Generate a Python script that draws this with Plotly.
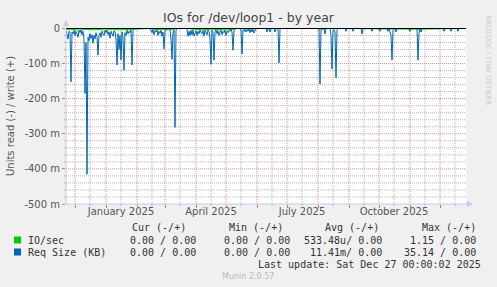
import plotly.graph_objects as go
import pandas as pd

# ---------------- data ----------------
start_date = "2024-11-22"
end_date = "2025-12-27"

# days since start_date, and Req Size (KB) read values in milli-units (plotted negative)
req_days = [0, 1, 2, 3, 4, 5, 6, 7, 8, 9, 10, 11, 12, 13, 14, 15, 16, 17, 18, 19, 20, 21, 22, 23, 24, 25,
            26, 27, 28, 29, 30, 31, 32, 33, 34, 35, 36, 37, 38, 39, 40, 41, 42, 43, 44, 45, 46, 47, 48, 49,
            50, 51, 52, 53, 54, 55, 56, 57, 58, 59, 60, 61, 62, 63, 64, 65, 66, 67, 68, 69, 84,
            85, 86, 87, 88, 89, 90, 91, 92, 93, 94, 95, 96, 97, 98, 99, 100, 101, 102, 103, 104, 105, 106,
            107, 108, 109, 110, 111, 120, 121, 122, 123, 124, 125, 126, 127, 128, 129, 130, 131, 132, 133,
            134, 135, 136, 137, 138, 139, 140, 141, 142, 143, 144, 145, 146, 147, 148, 149, 150, 151, 152,
            153, 154, 155, 156, 157, 158, 159, 160, 161, 162, 163, 164, 165, 166, 167, 168, 169, 170, 174,
            175, 176, 177, 178, 179, 180, 181, 182, 183, 184, 185, 186, 187, 188, 189, 190, 200, 201, 202,
            203, 204, 205, 208, 209, 210, 212, 213, 214, 253, 254, 255, 256, 258, 259, 260, 264, 265, 266,
            267, 268, 269, 270, 271, 272, 279, 280, 281, 286, 287, 288, 295, 296, 297, 305, 306, 307, 313,
            314, 315, 321, 322, 323, 325, 326, 327, 328, 329, 330, 331, 343, 344, 345, 351, 352, 353, 354,
            355, 356, 377, 378, 379, 384, 385, 386, 391, 392, 393, 399]
req_read = [-5, -19, -30, -8, -12, -152, -10, -15, -5, -20, -8, -14, -25, -6, -12, -4, -18, -8, -30, -185, -40,
            -415, -25, -35, -15, -28, -18, -42, -20, -30, -12, -22, -76, -20, -12, -25, -8, -15, -20, -6,
            -12, -5, -18, -10, -28, -8, -14, -22, -6, -10, -30, -104, -15, -60, -20, -90, -10, -25, -119,
            -12, -20, -5, -15, -8, -12, -4, -104, -6, -2, 0, 0,
            -5, -12, -3, -18, -6, -10, -4, -20, -8, -14, -5, -22, -10, -58, -8, -3, -2, 0, 0, -5, -30, -88,
            -10, -3, -282, -5, 0, 0, -3, -22, -8, -20, -5, -18, -4, -22, -10, -6, -20, -8, -15,
            -4, -12, -15, -6, -22, -5, -10, -18, -4, -8, -30, -102, -5, -12, -90, -10, -4, -15, -6,
            -20, -10, -4, -18, -8, -12, -5, -20, -8, -12, -5, -8, -3, -10, -62, -5, -2, 0, 0,
            -5, -73, -4, -8, -3, -10, -4, -8, 0, -12, -3, -10, -2, -13, -4, 0, 0, -10, 0,
            0, -10, 0, 0, -10, 0, 0, -98, 0, 0, -158, -5, -3, 0, -16, 0, 0, -20, -115,
            -5, -3, -10, -140, -5, 0, 0, -8, 0, 0, -8, 0, 0, -16, 0, 0, -8, 0, 0,
            -8, 0, 0, -8, 0, -20, -90, -5, 0, 0, -10, 0, 0, -8, 0, 0, -90, -15, 0,
            -10, 0, 0, -8, 0, 0, -8, 0, 0, -8, 0, 0]

# IO/sec read values in milli-units (plotted negative)
io_days = [0, 3, 8, 14, 20, 27, 33, 40, 47, 54, 61, 68, 69, 84, 90, 96, 102, 110, 111, 120, 128, 136,
           144, 152, 160, 168, 170, 174, 182, 190, 200, 210, 214, 253, 254, 255, 272, 326, 352, 399]
io_read = [-2, -4, -3, -5, -2, -4, -3, -5, -2, -4, -3, -2, 0, 0, -3, -2, -4, -2, 0, 0, -3, -4,
           -2, -3, -4, -2, 0, 0, -2, 0, 0, -2, 0, 0, -4, 0, 0, -2, -2, 0]

y_tick_vals = [-500, -400, -300, -200, -100, 0]
y_tick_text = ["-500 m", "-400 m", "-300 m", "-200 m", "-100 m", "0"]
x_tick_vals = ["2025-01-16", "2025-04-16", "2025-07-16", "2025-10-16"]
x_tick_text = ["January 2025", "April 2025", "July 2025", "October 2025"]

legend_names = ["IO/sec", "Req Size (KB)"]
legend_colors = ["#00CC00", "#0066B3"]
cur_vals = ["0.00 / 0.00", "0.00 / 0.00"]
min_vals = ["0.00 / 0.00", "0.00 / 0.00"]
avg_vals = ["533.48u/ 0.00", "11.41m/ 0.00"]
max_vals = ["1.15 / 0.00", "35.14 / 0.00"]

# ---------------- layout geometry ----------------
W, H = 497, 287
L, R, T, B = 66, 466, 28, 204   # plot area in pixels
PW, PH = R - L, B - T


def px(x):
    return (x - L) / PW


def py(y):
    return (B - y) / PH


start = pd.Timestamp(start_date)
end = pd.Timestamp(end_date)
req_x = [start + pd.Timedelta(days=d) for d in req_days]
io_x = [start + pd.Timedelta(days=d) for d in io_days]

fig = go.Figure()
fig.add_trace(go.Scatter(x=io_x, y=io_read, mode="lines",
                         line=dict(color=legend_colors[0], width=1), hoverinfo="skip"))
fig.add_trace(go.Scatter(x=req_x, y=req_read, mode="lines",
                         line=dict(color=legend_colors[1], width=1), hoverinfo="skip"))

major_grid = "#DC8C8C"
minor_grid = "#B4B4B4"
dots = "1px,1px"

fig.update_layout(
    width=W, height=H,
    margin=dict(l=L, r=W - R, t=T, b=H - B, autoexpand=False),
    paper_bgcolor="#F0F0F0", plot_bgcolor="#FFFFFF",
    showlegend=False,
    font=dict(family="DejaVu Sans", size=10, color="#555555"),
    title=dict(text="IOs for /dev/loop1 - by year", x=0.5, xref="container", xanchor="center",
               y=1 - 18 / H, yref="container", yanchor="middle",
               font=dict(family="DejaVu Sans", size=12.5, color="#444444")),
    xaxis=dict(type="date", range=[start_date, end_date], showgrid=False, zeroline=False,
               tickvals=x_tick_vals, ticktext=x_tick_text, ticks="", showline=False,
               tickfont=dict(size=10, color="#555555")),
    xaxis2=dict(type="date", range=[start_date, end_date], overlaying="x", matches="x",
                showticklabels=False, tick0="2024-12-01", dtick="M1", showgrid=False,
                ticks="outside", ticklen=3, tickcolor="#E07070", side="bottom"),
    yaxis=dict(range=[-500, 1.4], tickvals=y_tick_vals, ticktext=y_tick_text, zeroline=False,
               showgrid=False, ticks="outside", ticklen=3, tickcolor="#E07070",
               tickfont=dict(size=10, color="#555555")),
)
# invisible trace to activate xaxis2
fig.add_trace(go.Scatter(x=[start_date], y=[-1000], xaxis="x2", mode="markers",
                         marker=dict(opacity=0), hoverinfo="skip"))

shapes = []
# grid (dotted, below the data)
month_starts = pd.date_range(start.to_period("M").to_timestamp(), end, freq="MS")
for m in month_starts:
    mid = m + pd.Timedelta(days=15)
    if start < mid < end:
        shapes.append(dict(type="line", xref="x", yref="paper", x0=mid, x1=mid, y0=0, y1=1,
                           line=dict(color=minor_grid, width=1, dash=dots), layer="below"))
        shapes.append(dict(type="line", xref="x", yref="paper", x0=mid, x1=mid, y0=0, y1=-2 / PH,
                           line=dict(color="#B0B0B0", width=1), layer="above"))
for m in month_starts:
    if start < m < end:
        shapes.append(dict(type="line", xref="x", yref="paper", x0=m, x1=m, y0=0, y1=1,
                           line=dict(color=major_grid, width=1, dash=dots), layer="below"))
for v in range(-480, 0, 20):
    if v % 100 != 0:
        shapes.append(dict(type="line", xref="paper", yref="y", x0=0, x1=1, y0=v, y1=v,
                           line=dict(color=minor_grid, width=1, dash=dots), layer="below"))
        shapes.append(dict(type="line", xref="paper", yref="y", x0=-2 / PW, x1=0, y0=v, y1=v,
                           line=dict(color="#B0B0B0", width=1), layer="above"))
for v in y_tick_vals[1:-1]:
    shapes.append(dict(type="line", xref="paper", yref="y", x0=0, x1=1, y0=v, y1=v,
                       line=dict(color=major_grid, width=1, dash=dots), layer="below"))
# zero rule
shapes.append(dict(type="line", xref="paper", yref="y", x0=0, x1=1, y0=0, y1=0,
                   line=dict(color="#000000", width=1), layer="above"))
# axes
axis_col = "#C8C8F0"
shapes.append(dict(type="line", xref="paper", yref="paper", x0=0, x1=0, y0=0, y1=py(24),
                   line=dict(color=axis_col, width=1), layer="above"))
shapes.append(dict(type="line", xref="paper", yref="paper", x0=0, x1=px(470), y0=0, y1=0,
                   line=dict(color=axis_col, width=1), layer="above"))
shapes.append(dict(type="path", xref="paper", yref="paper",
                   path=f"M {px(63)},{py(26)} L {px(69)},{py(26)} L {px(66)},{py(20)} Z",
                   fillcolor=axis_col, line=dict(width=0), layer="above"))
shapes.append(dict(type="path", xref="paper", yref="paper",
                   path=f"M {px(467)},{py(201)} L {px(467)},{py(207)} L {px(473)},{py(204)} Z",
                   fillcolor=axis_col, line=dict(width=0), layer="above"))
# legend squares
for i, col in enumerate(legend_colors):
    yy = 240 + 12 * i
    shapes.append(dict(type="rect", xref="paper", yref="paper",
                       x0=px(14), x1=px(21), y0=py(yy + 3.5), y1=py(yy - 3.5),
                       fillcolor=col, line=dict(width=0)))
fig.update_layout(shapes=shapes)

mono = dict(family="DejaVu Sans Mono", size=10, color="#333333")
ann = []
# y axis title
ann.append(dict(text="Units read (-) / write (+)", x=px(10), y=py(116), xref="paper", yref="paper",
                textangle=-90, showarrow=False, xanchor="center", yanchor="middle",
                font=dict(family="DejaVu Sans", size=10, color="#555555")))
# rrdtool credit
ann.append(dict(text="RRDTOOL / TOBI OETIKER", x=px(488), y=py(60), xref="paper", yref="paper",
                textangle=90, showarrow=False, xanchor="center", yanchor="middle",
                font=dict(family="DejaVu Sans", size=7, color="#C8C8C8")))
# legend header
for txt, xr in [("Cur (-/+)", 188), ("Min (-/+)", 285), ("Avg (-/+)", 381), ("Max (-/+)", 478)]:
    ann.append(dict(text=txt, x=px(xr), y=py(227), xref="paper", yref="paper", showarrow=False,
                    xanchor="right", yanchor="middle", font=mono))
for i in range(len(legend_names)):
    yy = 240 + 12 * i
    ann.append(dict(text=legend_names[i], x=px(26), y=py(yy), xref="paper", yref="paper",
                    showarrow=False, xanchor="left", yanchor="middle", font=mono))
    for vals, xr in [(cur_vals, 198), (min_vals, 292), (avg_vals, 384), (max_vals, 478)]:
        ann.append(dict(text=vals[i], x=px(xr), y=py(yy), xref="paper", yref="paper",
                        showarrow=False, xanchor="right", yanchor="middle", font=mono))
ann.append(dict(text="Last update: Sat Dec 27 00:00:02 2025", x=px(483), y=py(264), xref="paper",
                yref="paper", showarrow=False, xanchor="right", yanchor="middle", font=mono))
ann.append(dict(text="Munin 2.0.57", x=px(248), y=py(276), xref="paper", yref="paper",
                showarrow=False, xanchor="center", yanchor="middle",
                font=dict(family="DejaVu Sans", size=8, color="#BBBBBB")))
fig.update_layout(annotations=ann)

fig.write_html("out.html")
